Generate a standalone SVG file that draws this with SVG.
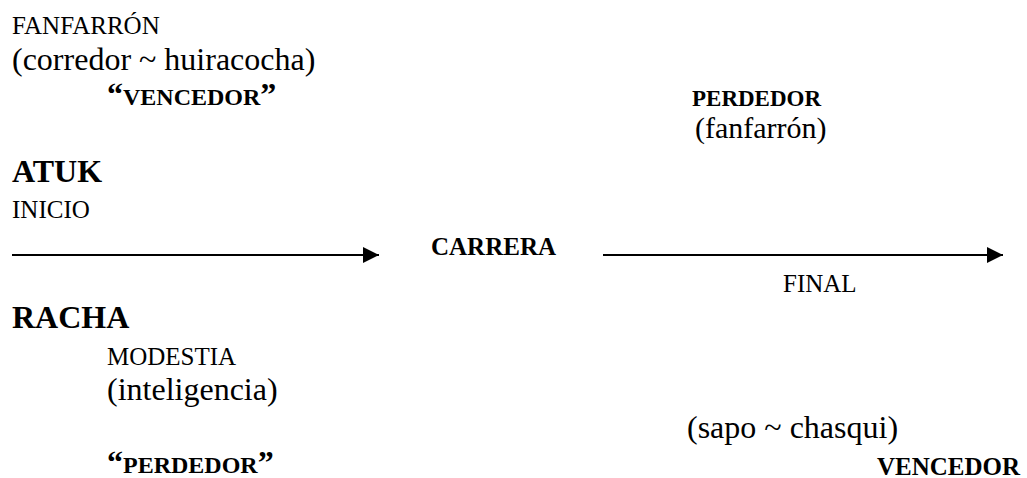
<svg xmlns="http://www.w3.org/2000/svg" width="1027" height="478" viewBox="0 0 1027 478">
<style>
text { font-family: "Liberation Serif", Tinos, "DejaVu Serif", "Noto Serif", "Times New Roman", Times, serif; fill: #000; }
.s { font-size: 25px; }
.l { font-size: 32px; }
.b { font-weight: bold; }
.q { font-size: 32px; }
.ln { stroke: #000; stroke-width: 2; fill: none; }
</style>
<defs>
<marker id="arrow" markerUnits="userSpaceOnUse" markerWidth="16" markerHeight="16" viewBox="0 0 15 15" refX="15" refY="7.5" orient="auto">
<path d="M0,0 L15,7.5 L0,15 Z" fill="#000"/>
</marker>
</defs>
<rect width="1027" height="478" fill="#fff"/>
<g id="connectors">
<line class="ln" x1="12" y1="255" x2="379" y2="255" marker-end="url(#arrow)"/>
<line class="ln" x1="603" y1="255" x2="1003" y2="255" marker-end="url(#arrow)"/>
</g>
<g id="fanfarron">
<text class="s" x="12" y="34">FANFARRÓN</text>
<text class="l" x="12" y="70">(corredor ~ huiracocha)</text>
<text class="b" x="107" y="105" style="font-size:24px"><tspan class="q">“</tspan>VENCEDOR<tspan class="q">”</tspan></text>
</g>
<g id="perdedor-top">
<text class="b" x="692" y="106" style="font-size:23px">PERDEDOR</text>
<text x="695" y="138" style="font-size:30px">(fanfarrón)</text>
</g>
<g id="atuk">
<text class="l b" x="12" y="182">ATUK</text>
<text class="s" x="12" y="218">INICIO</text>
</g>
<g id="carrera">
<text class="s b" x="431" y="255">CARRERA</text>
</g>
<g id="final">
<text class="s" x="783" y="292">FINAL</text>
</g>
<g id="racha">
<text class="l b" x="12" y="328">RACHA</text>
<text class="s" x="107" y="365">MODESTIA</text>
<text class="l" x="107" y="400">(inteligencia)</text>
<text class="b" x="107" y="473" style="font-size:24px"><tspan class="q">“</tspan>PERDEDOR<tspan class="q">”</tspan></text>
</g>
<g id="sapo">
<text class="l" x="687" y="438">(sapo ~ chasqui)</text>
<text class="s b" x="877" y="475">VENCEDOR</text>
</g>
</svg>
